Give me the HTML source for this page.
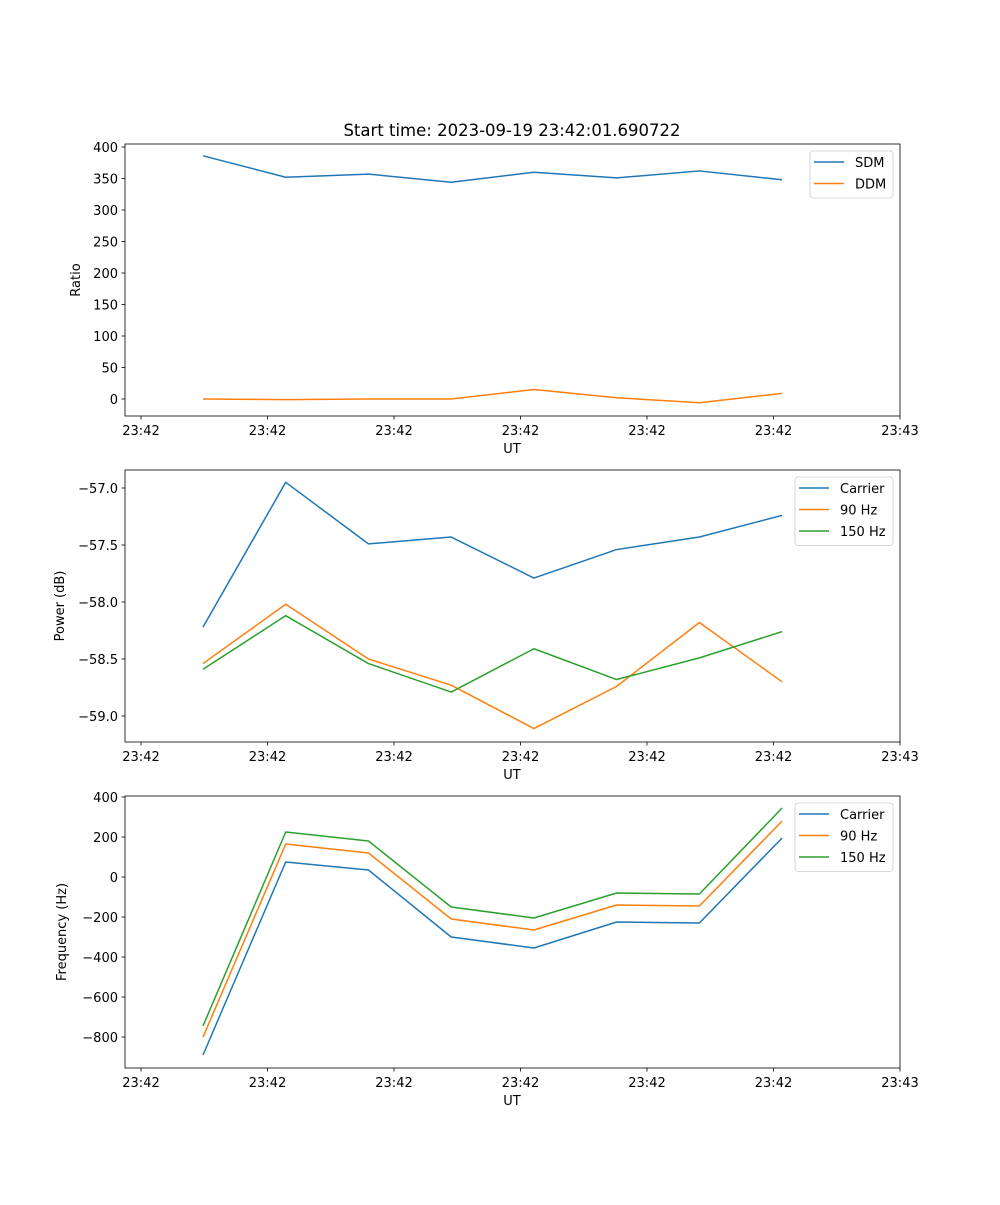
<!DOCTYPE html>
<html><head><meta charset="utf-8"><style>
html,body{margin:0;padding:0;background:#fff}
svg text{font-family:"DejaVu Sans","Liberation Sans",sans-serif;fill:#000}
</style></head><body>
<svg id="fig" width="1000" height="1200" xmlns="http://www.w3.org/2000/svg">
<text x="512" y="136" font-size="16.5" text-anchor="middle">Start time: 2023-09-19 23:42:01.690722</text>
</svg>
<script>
const times = [0.49, 1.144, 1.798, 2.452, 3.106, 3.76, 4.414, 5.068];
const xTickLabels = ["23:42","23:42","23:42","23:42","23:42","23:42","23:43"];
const sdm = [386, 352, 357, 344, 360, 351, 362, 348];
const ddm = [0, -1, 0, 0, 15, 2, -6, 9];
const powCarrier = [-58.22, -56.95, -57.49, -57.43, -57.79, -57.54, -57.43, -57.24];
const pow90 = [-58.54, -58.02, -58.50, -58.73, -59.11, -58.74, -58.18, -58.70];
const pow150 = [-58.59, -58.12, -58.54, -58.79, -58.41, -58.68, -58.49, -58.26];
const freqCarrier = [-890, 75, 35, -300, -355, -225, -230, 195];
const freq90 = [-800, 165, 120, -210, -265, -140, -145, 280];
const freq150 = [-745, 225, 180, -150, -205, -80, -85, 345];
const ticks1 = [0,50,100,150,200,250,300,350,400];
const ticks2 = [-59.0,-58.5,-58.0,-57.5,-57.0];
const ticks3 = [-800,-600,-400,-200,0,200,400];

const NS="http://www.w3.org/2000/svg";
const svg=document.getElementById('fig');
const C={b:'#1f77b4',o:'#ff7f0e',g:'#2ca02c'};
function mk(t,a,p){const e=document.createElementNS(NS,t);for(const k in a)e.setAttribute(k,a[k]);(p||svg).appendChild(e);return e;}
const X0=125,X1=900;
function xs(t){return 141+126.5*t;}

function panel(top,bottom,yv0,yp0,yv1,yp1,ticks,fmt,ylabel,series,legend,name){
  const g=mk('g',{});
  
  
  const ys=v=>yp0+(v-yv0)*(yp1-yp0)/(yv1-yv0);
  ticks.forEach(v=>{const y=ys(v);
    mk('line',{x1:X0-3.5,x2:X0,y1:y,y2:y,stroke:'#000','stroke-width':0.8},g);
    const t=mk('text',{x:X0-7,y:y+5,'font-size':13,'text-anchor':'end'},g);t.textContent=fmt(v);
    
    });
  xTickLabels.forEach((l,i)=>{const x=xs(i);
    mk('line',{x1:x,x2:x,y1:bottom,y2:bottom+3.5,stroke:'#000','stroke-width':0.8},g);
    const t=mk('text',{x:x,y:bottom+19,'font-size':13,'text-anchor':'middle'},g);t.textContent=l;
    
    });
  const xl=mk('text',{x:512,y:bottom+37,'font-size':13,'text-anchor':'middle'},g);xl.textContent='UT';
  
  
  const yc=(top+bottom)/2;
  const yl=mk('text',{x:0,y:0,'font-size':13,'text-anchor':'middle',transform:`translate(${ylabel[1]},${yc}) rotate(-90)`},g);yl.textContent=ylabel[0];
  
  
  series.forEach(s=>{
    const p=mk('polyline',{points:s.v.map((v,i)=>xs(times[i])+','+ys(v)).join(' '),fill:'none',stroke:s.c,'stroke-width':1.5,'stroke-linejoin':'round'},g);
    
    
  });
  mk('rect',{x:X0,y:top,width:X1-X0,height:bottom-top,fill:'none',stroke:'#000','stroke-width':0.8},g);
  const lg=mk('g',{},g);
  
  
  mk('rect',{x:legend[0],y:top+7,width:legend[1],height:series.length*21.5+4,rx:3,fill:'#fff','fill-opacity':0.8,stroke:'#ccc','stroke-width':0.8},lg);
  series.forEach((s,i)=>{const y=top+18+i*21.5;
    mk('line',{x1:legend[0]+4,x2:legend[0]+34,y1:y,y2:y,stroke:s.c,'stroke-width':1.5},lg);
    const t=mk('text',{x:legend[0]+45,y:y+5,'font-size':13},lg);t.textContent=s.n;
    
    });
}
panel(144,416,0,399,400,147,ticks1,v=>String(v),['Ratio',80],
  [{n:'SDM',v:sdm,c:C.b},{n:'DDM',v:ddm,c:C.o}],[810,83],'ratio-panel');
panel(470,742,-57,488,-59,716,ticks2,v=>'\u2212'+Math.abs(v).toFixed(1),['Power (dB)',64],
  [{n:'Carrier',v:powCarrier,c:C.b},{n:'90 Hz',v:pow90,c:C.o},{n:'150 Hz',v:pow150,c:C.g}],[795,98],'power-panel');
panel(796,1068,400,797,-800,1037,ticks3,v=>v<0?'\u2212'+Math.abs(v):String(v),['Frequency (Hz)',66],
  [{n:'Carrier',v:freqCarrier,c:C.b},{n:'90 Hz',v:freq90,c:C.o},{n:'150 Hz',v:freq150,c:C.g}],[795,98],'frequency-panel');
</script>
</body></html>
